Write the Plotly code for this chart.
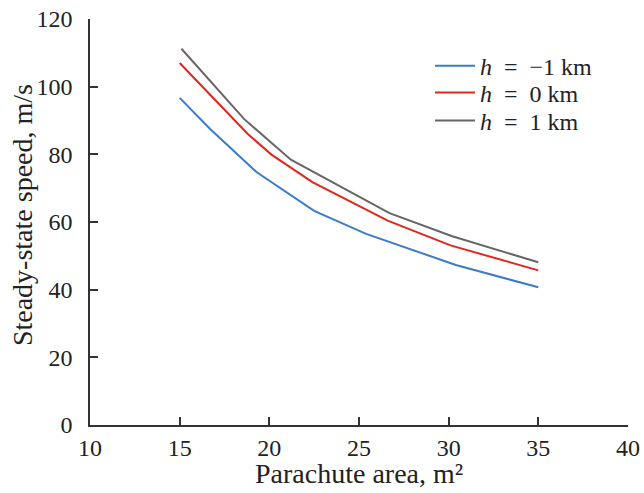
import plotly.graph_objects as go

area_m1 = [15.0, 16.7, 19.3, 22.5, 25.4, 30.4, 35.0]
speed_m1 = [96.7, 87.5, 74.7, 63.3, 56.5, 47.3, 40.7]

area_0 = [15.0, 18.8, 20.1, 22.4, 26.6, 30.1, 35.0]
speed_0 = [107.0, 86.0, 80.0, 71.8, 60.4, 53.1, 45.7]

area_p1 = [15.1, 18.6, 21.2, 26.7, 30.2, 35.0]
speed_p1 = [111.2, 90.4, 78.4, 62.6, 55.8, 48.1]

names = ["<i>h</i>\u00a0\u00a0=\u00a0\u00a0\u22121 km",
         "<i>h</i>\u00a0\u00a0=\u00a0\u00a00 km",
         "<i>h</i>\u00a0\u00a0=\u00a0\u00a01 km"]
colors = ["#3b7cc8", "#e2261d", "#666666"]
legend_ids = ["legend", "legend2", "legend3"]

fig = go.Figure()
for xs, ys, n, c, lg in [(area_m1, speed_m1, names[0], colors[0], legend_ids[0]),
                         (area_0, speed_0, names[1], colors[1], legend_ids[1]),
                         (area_p1, speed_p1, names[2], colors[2], legend_ids[2])]:
    fig.add_trace(go.Scatter(x=xs, y=ys, mode="lines", name=n, legend=lg,
                             line=dict(color=c, width=2)))

fam = "Liberation Serif, Times New Roman, serif"
tick_font = dict(family=fam, size=24, color="#222")
title_font = dict(family=fam, size=28, color="#222")
legend_font = dict(family=fam, size=24, color="#222")
axis_common = dict(showgrid=False, zeroline=False, showline=True, linecolor="#333",
                   linewidth=1.5, ticks="inside", ticklen=8, tickwidth=1.5,
                   tickcolor="#333", tickfont=tick_font, mirror=False, automargin=False)

def leg(y):
    return dict(x=0.632, y=y, xanchor="left", yanchor="middle", font=legend_font,
                bgcolor="rgba(0,0,0,0)", itemwidth=40)

fig.update_layout(
    width=644, height=493,
    margin=dict(l=90, r=16, t=19, b=68),
    plot_bgcolor="white", paper_bgcolor="white",
    font=tick_font,
    xaxis=dict(range=[10, 40], tickvals=[10, 15, 20, 25, 30, 35, 40], **axis_common),
    yaxis=dict(range=[0, 120], tickvals=[0, 20, 40, 60, 80, 100, 120],
               ticklabelstandoff=11, **axis_common),
    legend=leg(0.884), legend2=leg(0.818), legend3=leg(0.749),
    showlegend=True,
    annotations=[
        dict(text="Parachute area, m\u00b2", xref="paper", yref="paper",
             x=0.5, y=-0.12, xanchor="center", yanchor="middle",
             showarrow=False, font=title_font),
        dict(text="Steady-state speed, m/s", xref="paper", yref="paper",
             x=-0.1264, y=0.517, xanchor="center", yanchor="middle",
             textangle=-90, showarrow=False, font=title_font),
    ],
)
fig.write_html("out.html")
